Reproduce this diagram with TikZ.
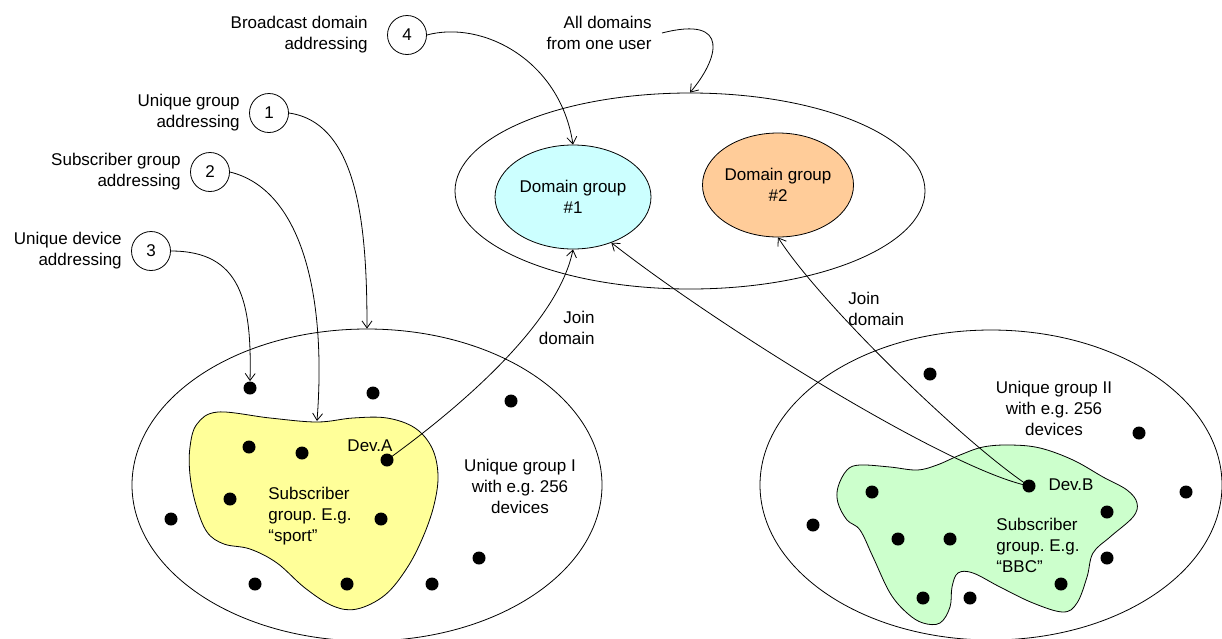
\documentclass[tikz,border=0pt]{standalone}
\usepackage{fontspec}
\setmainfont{Liberation Sans}
\usetikzlibrary{positioning,shapes.geometric,arrows.meta}
\definecolor{domcyan}{HTML}{CCFFFF}
\definecolor{domorange}{HTML}{FFCC99}
\definecolor{subyellow}{HTML}{FFFF99}
\definecolor{subgreen}{HTML}{CCFFCC}
\frenchspacing

\begin{document}
\begin{tikzpicture}[x=1pt, y=-1pt, line width=0.8pt,
  font=\fontsize{17}{21}\selectfont,
  num/.style = {draw, circle, minimum size=39pt, inner sep=0pt},
  txt/.style = {align=center, inner sep=0pt},
  grp/.style = {draw, ellipse, inner sep=0pt, align=center},
  dot/.style = {circle, fill=black, minimum size=13pt, inner sep=0pt},
  arr/.style = {-{Straight Barb[length=7pt,width=10pt]}}]

\useasboundingbox (0,0) rectangle (1222,638);

% domains of one user
\node[grp, minimum width=470pt, minimum height=196pt] (all) at (690,191) {};
\node[grp, fill=domcyan, minimum width=156pt, minimum height=104pt] (dom1) at (573,197) {Domain group\\\#1};
\node[grp, fill=domorange, minimum width=150pt, minimum height=104pt] (dom2) at (778,185) {Domain group\\\#2};

% unique groups
\node[grp, minimum width=470pt, minimum height=312pt] (grpI) at (367,485) {};
\node[grp, minimum width=462pt, minimum height=310pt] (grpII) at (991,485) {};

% subscriber groups
\draw[fill=subyellow] plot[smooth cycle, tension=0.6] coordinates {
  (190,447) (197,424) (218,412) (270,418) (317,422) (353,418) (387,418)
  (415,428) (432,448) (438,475) (434,505) (423,537) (407,568) (385,595)
  (357,609) (333,606) (305,588) (277,563) (250,549) (224,544) (207,532)
  (196,505) (190,475)};
\draw[fill=subgreen] plot[smooth cycle, tension=0.6] coordinates {
  (838,487) (847,470) (860,465) (890,467) (917,470) (937,465) (960,455)
  (983,447) (1010,445) (1040,448) (1073,460) (1103,477) (1127,490)
  (1137,503) (1133,517) (1110,537) (1093,553) (1087,577) (1077,603)
  (1063,612) (1033,603) (1000,587) (973,573) (958,573) (952,587)
  (950,607) (940,623) (923,623) (907,613) (890,593) (873,557) (860,530)
  (847,520) (838,503)};
\coordinate (subtop) at (317,421);

% devices
\node[dot] (d1) at (250,388) {};
\node[dot] (devA) at (387,460) {};
\node[dot] (devB) at (1029,486) {};
\foreach \x/\y [count=\i] in {373/393, 511/401, 249/447, 302/453, 230/499,
    171/519, 381/519, 479/558, 255/584, 347/584, 432/584,
    930/374, 1139/433, 872/492, 1186/492, 1107/512, 813/525, 898/539,
    950/539, 1107/558, 1061/584, 923/598, 970/598}
  \node[dot] (p\i) at (\x,\y) {};

% texts
\node[txt] (devAtxt) at (370,446) {Dev.A};
\node[txt] (devBtxt) at (1071,485) {Dev.B};
\node[txt, align=left, anchor=west] (sport) at (268,516) {Subscriber\\group. E.g.\\“sport”};
\node[txt, align=left, anchor=west] (bbc) at (996,545) {Subscriber\\group. E.g.\\“BBC”};
\node[txt] (uI) at (520,486) {Unique group I\\with e.g. 256\\devices};
\node[txt] (uII) at (1054,408) {Unique group II\\with e.g. 256\\devices};
\node[txt, align=right, anchor=east] (joinA) at (595,328) {Join\\domain};
\node[txt, align=left, anchor=west] (joinB) at (848,309) {Join\\domain};
\node[txt, align=right, anchor=east] (alldom) at (652,33) {All domains\\from one user};

% addressing
\node[num] (n4) at (407,35) {4};
\node[num] (n1) at (269,113) {1};
\node[num] (n2) at (210,172) {2};
\node[num] (n3) at (151,251) {3};
\node[txt, align=right, left=19pt of n4] (l4) {Broadcast domain\\addressing};
\node[txt, align=right, left=9pt of n1] (l1) {Unique group\\addressing};
\node[txt, align=right, left=9pt of n2] (l2) {Subscriber group\\addressing};
\node[txt, align=right, left=9pt of n3] (l3) {Unique device\\addressing};

\draw[arr] (n1.east) .. controls +(70,10) and +(0,-100) .. (grpI.north);
\draw[arr] (n2.east) .. controls +(70,17) and +(10,-130) .. (subtop);
\draw[arr] (n3.east) .. controls +(70,0) and +(2,-80) .. (d1.north);
\draw[arr] (n4.east) .. controls +(55,-15) and +(-13,-85) .. (dom1.north);
\draw[arr] ([xshift=10pt]alldom.east) .. controls +(70,-18) and +(28,-33) .. (all.north);

% join domain
\draw[arr] (devA.center) .. controls +(83,-60) and +(-14,70) .. (dom1.south);
\draw[arr] (devB.center) .. controls +(-79,-16) and +(110,86) .. (dom1.-50);
\draw[arr] (devB.center) .. controls +(-69,-46) and +(40,63) .. (dom2.south);

\end{tikzpicture}
\end{document}
